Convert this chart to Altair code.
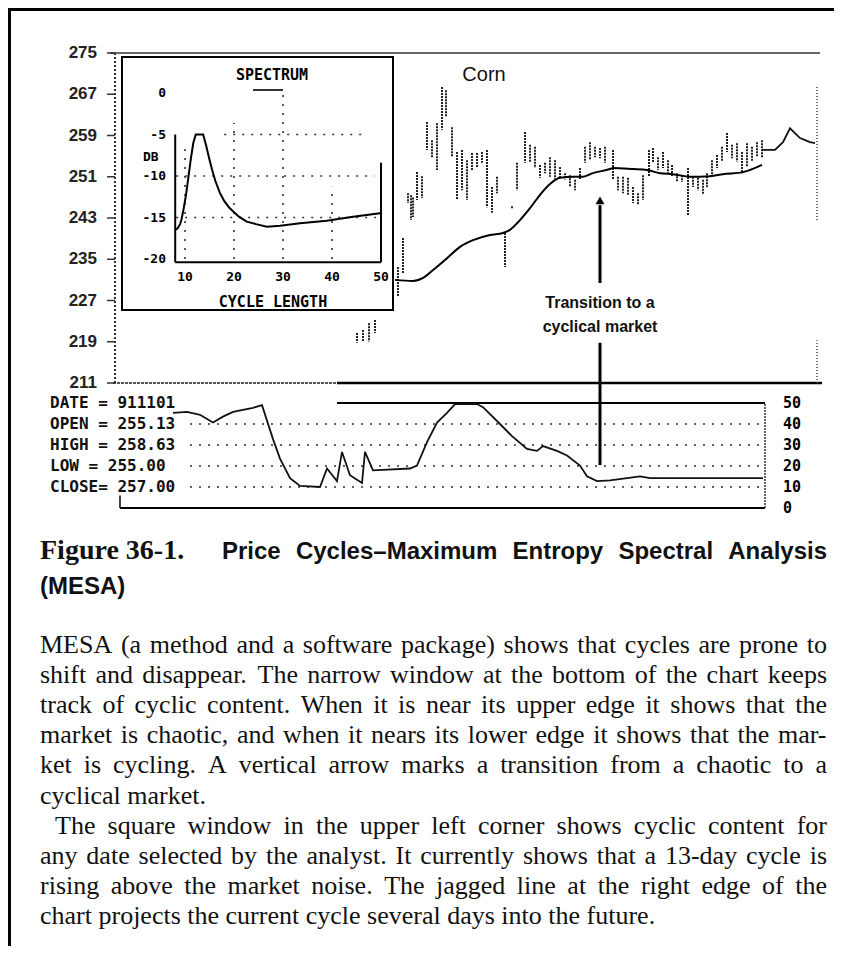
import altair as alt
import pandas as pd

# ---------------- values ----------------
price_ticks = [275, 267, 259, 251, 243, 235, 227, 219, 211]

bar_day = [48.8, 50.0, 51.2, 52.4, 57.0,
           58.0, 59.0, 59.6, 60.0, 60.8, 61.8, 62.8, 63.8, 64.8, 65.8,
           66.6, 67.8, 68.8, 69.8, 70.8, 71.8, 72.8, 73.8, 74.8, 75.8,
           76.8, 78.4, 79.8, 80.8, 82.4, 83.4, 84.4, 85.4, 86.4, 87.4,
           88.4, 89.4, 90.4, 91.4, 92.4, 93.4, 94.4, 95.4, 96.4, 97.4,
           98.4, 100.0, 101.0, 102.0, 103.0, 104.0, 105.0, 106.0, 107.2, 108.0,
           109.0, 110.0, 111.0, 111.8, 112.8, 113.8, 115.0, 116.0, 117.0, 118.0,
           118.8, 119.8, 120.8, 121.8, 122.8, 123.8, 124.8, 125.8, 126.8, 127.8,
           128.8, 129.8]
bar_high = [220.7, 221.3, 222.6, 223.2, 233.5,
            239.1, 247.8, 247.4, 247.0, 251.9, 251.1, 261.6, 258.1, 261.4, 268.4,
            267.8, 260.6, 255.8, 256.2, 254.2, 255.6, 255.6, 255.8, 256.2, 249.0,
            251.0, 240.1, 245.3, 253.7, 259.7, 257.2, 256.8, 253.3, 253.7, 254.8,
            254.2, 252.9, 251.7, 251.3, 250.4, 252.7, 256.8, 257.7, 256.8, 256.6,
            256.8, 256.2, 251.0, 251.0, 250.8, 249.0, 247.8, 251.3, 256.2, 256.6,
            254.8, 255.8, 254.2, 253.3, 251.7, 251.3, 252.7, 251.0, 250.8, 250.4,
            251.7, 254.2, 255.2, 256.8, 259.5, 257.2, 257.5, 255.8, 257.5, 256.8,
            257.7, 258.1]
bar_low = [218.8, 219.0, 219.0, 220.7, 227.7,
           232.3, 245.9, 242.6, 243.2, 246.5, 246.9, 256.2, 254.8, 252.3, 260.1,
           262.6, 254.8, 246.5, 248.4, 246.5, 252.3, 252.9, 253.7, 245.1, 244.0,
           247.8, 233.5, 244.9, 248.4, 253.7, 253.9, 252.7, 250.8, 251.7, 251.0,
           250.4, 250.8, 250.4, 249.0, 248.4, 250.4, 253.7, 254.2, 254.8, 254.6,
           253.7, 250.4, 248.4, 247.8, 247.5, 245.9, 245.5, 246.5, 251.0, 253.7,
           252.3, 252.7, 251.7, 251.0, 250.0, 250.0, 243.6, 249.0, 248.4, 247.5,
           249.0, 251.0, 252.7, 253.9, 255.8, 254.6, 253.9, 251.9, 252.9, 253.9,
           254.8, 254.6]

ma_day = [56.4, 60.0, 62.0, 64.0, 66.8, 69.4, 72.0, 75.4, 78.0, 79.4,
          81.4, 83.4, 85.4, 87.4, 89.4, 92.0, 94.0, 96.0, 99.4, 100.0,
          104.0, 106.8, 109.4, 112.0, 115.4, 119.4, 122.0, 126.0, 129.8]
ma_price = [231.0, 230.8, 231.4, 232.9, 235.2, 237.4, 238.7, 239.7, 240.1, 240.7,
            242.6, 244.9, 247.5, 249.6, 250.8, 251.0, 251.0, 251.7, 252.5, 252.7,
            252.5, 252.3, 251.7, 251.5, 251.0, 251.1, 251.5, 251.9, 253.3]

proj_day = [129.8, 132.4, 134.0, 135.4, 137.4, 139.4, 140.4]
proj_price = [256.2, 256.2, 257.7, 260.4, 258.5, 257.7, 257.5]

spec_cycle = [8.0, 8.5, 9.0, 9.3, 9.7, 10.2, 10.7, 11.2, 11.7, 12.2,
              13.7, 14.3, 14.9, 15.5, 16.2, 17.1, 18.0, 19.0, 19.9, 21.0,
              22.6, 24.5, 26.7, 29.4, 33.5, 38.9, 44.3, 49.8]
spec_db = [-16.5, -16.3, -15.8, -15.2, -14.0, -12.3, -10.1, -7.9, -6.0, -5.0,
           -5.0, -6.3, -7.8, -9.2, -10.6, -12.0, -13.0, -13.8, -14.3, -14.9,
           -15.5, -15.8, -16.1, -16.0, -15.7, -15.4, -14.9, -14.5]
spec_x_ticks = [10, 20, 30, 40, 50]
spec_y_ticks = [0, -5, -10, -15, -20]

cyc_day = [12.0, 14.8, 17.4, 20.0, 22.0, 24.0, 28.0, 29.8, 32.0, 33.4,
           35.4, 37.4, 41.4, 42.8, 44.8, 45.8, 47.4, 49.8, 50.4, 52.0,
           59.4, 60.8, 62.8, 64.8, 66.8, 68.4, 72.8, 74.0, 77.4, 79.8,
           82.8, 84.8, 86.0, 88.8, 90.8, 93.4, 94.8, 96.8, 99.4, 102.8,
           105.4, 107.4, 130.0]
cyc_val = [45.3, 45.8, 44.4, 40.7, 43.5, 45.8, 47.7, 49.0, 32.8, 23.5,
           14.2, 10.5, 10.0, 18.8, 12.8, 26.7, 15.6, 11.9, 26.7, 17.9,
           18.8, 20.2, 31.4, 40.7, 45.3, 49.5, 49.5, 48.0, 40.0, 34.2,
           28.1, 27.2, 29.5, 27.2, 25.0, 20.2, 15.1, 12.8, 13.2, 14.2,
           15.1, 14.2, 14.2]
cyc_ticks = [50, 40, 30, 20, 10, 0]
info_labels = ["DATE = 911101", "OPEN = 255.13", "HIGH = 258.63",
               "LOW  = 255.00", "CLOSE= 257.00"]
info_levels = [50, 40, 30, 20, 10]

title_text = "Corn"
arrow_day = 97.4
arrow_text = ["Transition to a", "cyclical market"]

caption_fig = "Figure 36-1."
caption_title = "Price Cycles\u2013Maximum Entropy Spectral Analysis"
caption_title2 = "(MESA)"
para_lines = [
    "MESA (a method and a software package) shows that cycles are prone to",
    "shift and disappear. The narrow window at the bottom of the chart keeps",
    "track of cyclic content. When it is near its upper edge it shows that the",
    "market is chaotic, and when it nears its lower edge it shows that the mar-",
    "ket is cycling. A vertical arrow marks a transition from a chaotic to a",
    "cyclical market.",
    "The square window in the upper left corner shows cyclic content for",
    "any date selected by the analyst. It currently shows that a 13-day cycle is",
    "rising above the market noise. The jagged line at the right edge of the",
    "chart projects the current cycle several days into the future.",
]
para_end = {5, 9}
para_indent = {6: 15}

# ---------------- layout ----------------
W, H = 826, 938
M = 8  # page margin


def px(v):
    return v - M


def py(v):
    return v - M


def lin(domain, rng):
    return alt.Scale(domain=domain, range=rng, nice=False, zero=False)


DAY = lin([0, 141.4], [px(113), px(820)])
PRICE = lin([211, 275], [py(383), py(53)])
CYC = lin([0, 50], [py(508), py(403)])
SPX = lin([10, 50], [px(185), px(381)])
SPY = lin([-20, 0], [py(259), py(93)])


def Xq(f, s):
    return alt.X(f, type="quantitative", scale=s, axis=None)


def Yq(f, s):
    return alt.Y(f, type="quantitative", scale=s, axis=None)


def hrule(y, x0, x1, xs, ys, **mk):
    df = pd.DataFrame({"y": [y], "x": [x0], "x2": [x1]})
    return alt.Chart(df).mark_rule(**mk).encode(x=Xq("x", xs), x2="x2", y=Yq("y", ys))


def vrule(x, y0, y1, xs, ys, **mk):
    df = pd.DataFrame({"x": [x], "y": [y0], "y2": [y1]})
    return alt.Chart(df).mark_rule(**mk).encode(x=Xq("x", xs), y=Yq("y", ys), y2="y2")


one = pd.DataFrame({"k": [0]})
MONO = "DejaVu Sans Mono"
SANS = "Liberation Sans"
SERIF = "Liberation Serif"

layers = []

# frame of the page
layers.append(alt.Chart(one).mark_rule(color="black", strokeWidth=3).encode(
    x=alt.value(0), x2=alt.value(W), y=alt.value(1.5)))
layers.append(alt.Chart(one).mark_rule(color="black", strokeWidth=3).encode(
    x=alt.value(1.5), y=alt.value(0), y2=alt.value(H)))

# ---- price panel ----
layers.append(hrule(275, -0.6, 141.4, DAY, PRICE, color="#666", strokeWidth=2))
layers.append(hrule(211, 0, 44.8, DAY, PRICE, color="#555", strokeWidth=2, strokeDash=[3, 1]))
layers.append(hrule(211, 44.8, 141.8, DAY, PRICE, color="black", strokeWidth=2.5))
layers.append(vrule(0.4, 211, 275, DAY, PRICE, color="#333", strokeWidth=2, strokeDash=[2, 2]))

pt = pd.DataFrame({"p": price_ticks, "lab": [str(v) for v in price_ticks]})
layers.append(alt.Chart(pt).mark_rule(color="#333", strokeWidth=1.5).encode(
    y=Yq("p", PRICE), x=alt.value(px(107)), x2=alt.value(px(115))))
layers.append(alt.Chart(pt).mark_text(align="right", baseline="middle", font=SANS,
                                      fontSize=17, fontWeight="bold", color="#222").encode(
    y=Yq("p", PRICE), x=alt.value(px(97)), text="lab:N"))

bars = pd.DataFrame({"d": bar_day, "hi": bar_high, "lo": bar_low})
layers.append(alt.Chart(bars).mark_rule(color="#222", strokeWidth=2, strokeDash=[2, 1]).encode(
    x=Xq("d", DAY), y=Yq("hi", PRICE), y2="lo"))

ma = pd.DataFrame({"d": ma_day, "p": ma_price})
layers.append(alt.Chart(ma).mark_line(color="black", strokeWidth=2, interpolate="monotone").encode(
    x=Xq("d", DAY), y=Yq("p", PRICE)))
proj = pd.DataFrame({"d": proj_day, "p": proj_price})
layers.append(alt.Chart(proj).mark_line(color="#111", strokeWidth=1.8).encode(
    x=Xq("d", DAY), y=Yq("p", PRICE)))
layers.append(vrule(140.8, 242.6, 268.4, DAY, PRICE, color="#444", strokeWidth=1.5, strokeDash=[1, 2]))
layers.append(vrule(140.8, 211, 219.3, DAY, PRICE, color="#444", strokeWidth=1.5, strokeDash=[1, 2]))

# ---- spectrum inset ----
layers.append(alt.Chart(one).mark_rect(fill="white", stroke="black", strokeWidth=2).encode(
    x=alt.value(px(122)), x2=alt.value(px(393)), y=alt.value(py(57)), y2=alt.value(py(310))))

gh = pd.DataFrame({"y": [-5, -10, -15], "x": [18, 8.2, 8.2], "x2": [46.7, 48.7, 49.0]})
layers.append(alt.Chart(gh).mark_rule(color="#333", strokeWidth=1.6, strokeDash=[2, 7]).encode(
    x=Xq("x", SPX), x2="x2", y=Yq("y", SPY)))
gv = pd.DataFrame({"x": [10, 20, 30, 40], "y": [-20] * 4, "y2": [-6.3, -3.6, 0, -11.3]})
layers.append(alt.Chart(gv).mark_rule(color="#333", strokeWidth=1.6, strokeDash=[2, 7]).encode(
    x=Xq("x", SPX), y=Yq("y", SPY), y2="y2"))

layers.append(vrule(8, -5, -20.4, SPX, SPY, color="black", strokeWidth=2))
layers.append(hrule(-20.4, 8, 50, SPX, SPY, color="black", strokeWidth=2))
layers.append(vrule(50, -8.4, -20.4, SPX, SPY, color="black", strokeWidth=2))

spec = pd.DataFrame({"c": spec_cycle, "db": spec_db})
layers.append(alt.Chart(spec).mark_line(color="black", strokeWidth=2).encode(
    x=Xq("c", SPX), y=Yq("db", SPY), order="c:Q"))

sy = pd.DataFrame({"v": spec_y_ticks, "lab": [str(v) for v in spec_y_ticks]})
layers.append(alt.Chart(sy).mark_text(align="right", baseline="middle", font=MONO,
                                      fontSize=13, fontWeight="bold", color="black").encode(
    y=Yq("v", SPY), x=alt.value(px(166)), text="lab:N"))
sx = pd.DataFrame({"v": spec_x_ticks, "lab": [str(v) for v in spec_x_ticks]})
layers.append(alt.Chart(sx).mark_text(align="center", baseline="middle", font=MONO,
                                      fontSize=13, fontWeight="bold", color="black").encode(
    x=Xq("v", SPX), y=alt.value(py(277)), text="lab:N"))

layers.append(alt.Chart(one).mark_text(align="left", baseline="middle", font=MONO, fontSize=13,
                                       fontWeight="bold", color="black", text="DB").encode(
    x=alt.value(px(143)), y=alt.value(py(157))))
layers.append(alt.Chart(one).mark_text(align="center", baseline="middle", font=MONO, fontSize=15,
                                       fontWeight="bold", color="black", text="SPECTRUM").encode(
    x=alt.value(px(272)), y=alt.value(py(75))))
layers.append(alt.Chart(one).mark_rule(color="#333", strokeWidth=2).encode(
    x=alt.value(px(253)), x2=alt.value(px(283)), y=alt.value(py(90))))
layers.append(alt.Chart(one).mark_text(align="center", baseline="middle", font=MONO, fontSize=15,
                                       fontWeight="bold", color="black", text="CYCLE LENGTH").encode(
    x=alt.value(px(273)), y=alt.value(py(302))))

# ---- cycle panel ----
cg = pd.DataFrame({"v": [40, 30, 20, 10], "x": [15.4] * 4, "x2": [130.4] * 4})
layers.append(alt.Chart(cg).mark_rule(color="#333", strokeWidth=1.6, strokeDash=[2, 7]).encode(
    x=Xq("x", DAY), x2="x2", y=Yq("v", CYC)))
layers.append(hrule(50, 44.8, 130.4, DAY, CYC, color="black", strokeWidth=2))
layers.append(hrule(0, 1.4, 130.4, DAY, CYC, color="black", strokeWidth=2))
layers.append(vrule(130.4, 0, 50, DAY, CYC, color="#333", strokeWidth=1.5, strokeDash=[2, 1]))
layers.append(vrule(1.4, 0, 6, DAY, CYC, color="black", strokeWidth=1.5))

cyc = pd.DataFrame({"d": cyc_day, "v": cyc_val})
layers.append(alt.Chart(cyc).mark_line(color="#111", strokeWidth=1.8).encode(
    x=Xq("d", DAY), y=Yq("v", CYC)))

ct = pd.DataFrame({"v": cyc_ticks, "lab": [str(v) for v in cyc_ticks]})
layers.append(alt.Chart(ct).mark_text(align="left", baseline="middle", font=MONO, fontSize=15,
                                      fontWeight="bold", color="black").encode(
    y=Yq("v", CYC), x=alt.value(px(783)), text="lab:N"))
il = pd.DataFrame({"v": info_levels, "lab": info_labels})
layers.append(alt.Chart(il).mark_text(align="left", baseline="middle", font=MONO, fontSize=16,
                                      fontWeight="bold", color="#111").encode(
    y=Yq("v", CYC), x=alt.value(px(50)), text="lab:N"))

# ---- annotations ----
layers.append(vrule(arrow_day, 230.4, 245.5, DAY, PRICE, color="black", strokeWidth=3))
layers.append(vrule(arrow_day, 218.8, 195.1, DAY, PRICE, color="black", strokeWidth=3))
ah = pd.DataFrame({"d": [arrow_day], "p": [246.4]})
layers.append(alt.Chart(ah).mark_point(shape="triangle-up", filled=True, size=80, color="black",
                                       opacity=1).encode(x=Xq("d", DAY), y=Yq("p", PRICE)))
at = pd.DataFrame({"d": [arrow_day] * 2, "p": [226.5, 221.9], "t": arrow_text})
layers.append(alt.Chart(at).mark_text(align="center", baseline="middle", font=SANS, fontSize=16,
                                      fontWeight="bold", color="#111").encode(
    x=Xq("d", DAY), y=Yq("p", PRICE), text="t:N"))
cn = pd.DataFrame({"d": [74.2], "p": [270.7], "t": [title_text]})
layers.append(alt.Chart(cn).mark_text(align="center", baseline="middle", font=SANS, fontSize=20,
                                      color="#111").encode(
    x=Xq("d", DAY), y=Yq("p", PRICE), text="t:N"))

# ---- caption and paragraph (justified word by word) ----
TIMES = dict(zip("abcdefghijklmnopqrstuvwxyz",
                 [444, 500, 444, 500, 444, 333, 500, 500, 278, 278, 500, 278, 778,
                  500, 500, 500, 500, 333, 389, 278, 500, 500, 722, 500, 500, 444]))
TIMES.update(zip("ABCDEFGHIJKLMNOPQRSTUVWXYZ",
                 [722, 667, 667, 722, 611, 556, 722, 722, 333, 389, 722, 611, 889,
                  722, 722, 556, 722, 667, 556, 611, 722, 722, 944, 722, 722, 611]))
TIMES.update({c: 500 for c in "0123456789"})
TIMES.update({" ": 250, ".": 250, ",": 250, "-": 333, "(": 333, ")": 333, ":": 278, ";": 278})
ARIALB = dict(zip("abcdefghijklmnopqrstuvwxyz",
                  [556, 611, 556, 611, 556, 333, 611, 611, 278, 278, 556, 278, 889,
                   611, 611, 611, 611, 389, 556, 333, 611, 556, 778, 556, 556, 500]))
ARIALB.update(zip("ABCDEFGHIJKLMNOPQRSTUVWXYZ",
                  [722, 722, 722, 722, 667, 611, 778, 722, 278, 556, 722, 611, 833,
                   722, 778, 667, 778, 722, 667, 611, 722, 667, 944, 667, 667, 611]))
ARIALB.update({" ": 278, "\u2013": 556, "(": 333, ")": 333, ".": 278, "-": 333})


def set_line(line, x0, x1, y, size, table, justify):
    words = line.split()
    ws = [sum(table.get(c, 500) for c in w) * size / 1000.0 for w in words]
    if justify and len(words) > 1:
        gap = (x1 - x0 - sum(ws)) / (len(words) - 1)
    else:
        gap = table[" "] * size / 1000.0
    rows, x = [], x0
    for w, wd in zip(words, ws):
        rows.append({"x": x, "y": y, "text": w})
        x += wd + gap
    return rows


PARA_SIZE = 26
prow = []
for i, line in enumerate(para_lines):
    base = py(653 + 30.1 * i)
    x0 = px(40 + para_indent.get(i, 0))
    prow += set_line(line, x0, px(827), base, PARA_SIZE, TIMES, i not in para_end)
pdf = pd.DataFrame(prow)
layers.append(alt.Chart(pdf).mark_text(align="left", baseline="alphabetic", font=SERIF,
                                       fontSize=PARA_SIZE, color="#111").encode(
    x=alt.X("x:Q", scale=None, axis=None), y=alt.Y("y:Q", scale=None, axis=None), text="text:N"))

cap_rows = set_line(caption_title, px(222), px(827), py(559), 24, ARIALB, True)
cap_rows += set_line(caption_title2, px(40), px(827), py(594), 24, ARIALB, False)
cdf = pd.DataFrame(cap_rows)
layers.append(alt.Chart(cdf).mark_text(align="left", baseline="alphabetic", font=SANS,
                                       fontSize=24, fontWeight="bold", color="#111").encode(
    x=alt.X("x:Q", scale=None, axis=None), y=alt.Y("y:Q", scale=None, axis=None), text="text:N"))
layers.append(alt.Chart(one).mark_text(align="left", baseline="alphabetic", font=SERIF, fontSize=28,
                                       fontWeight="bold", color="#111", text=caption_fig).encode(
    x=alt.value(px(40)), y=alt.value(py(559))))

chart = alt.layer(*layers).resolve_scale(x="independent", y="independent").properties(
    width=W, height=H, autosize=alt.AutoSizeParams(type="none"), padding=0
).configure_view(stroke=None)

chart.save("out.html", embed_options={"renderer": "svg", "actions": False})
